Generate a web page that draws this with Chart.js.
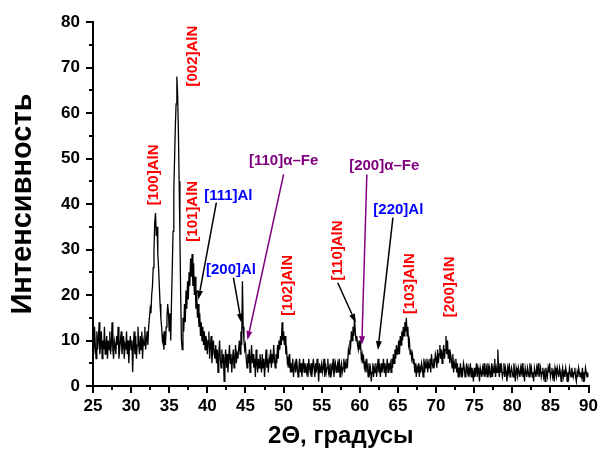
<!DOCTYPE html>
<html>
<head>
<meta charset="utf-8">
<script src="https://cdn.jsdelivr.net/npm/chart.js@4/dist/chart.umd.min.js"></script>
<style>
html,body{margin:0;padding:0;background:#fff;}
#wrap{width:601px;height:450px;}
</style>
</head>
<body>
<div id="wrap"><canvas id="c" width="601" height="450"></canvas></div>
<script>
// ---- data (2Θ scan, step 0.1°) ----
const twoThetaStart = 25;
const twoThetaStep = 0.1;
const intensity25to35 = [
 11,7,13,9,6,12,8,10,14,7,
 9,12,6,10,8,13,7,9,11,6,
 10,8,12,7,9,14,8,6,10,9,
 7,11,9,13,6,8,10,12,7,9,
 11,6,9,8,12,7,10,5,9,11,
 8,10,3,9,12,7,11,6,9,13,
 9,7,11,8,12,6,10,9,13,8,
 10,12,9,13,15,17,16,20,22,26,
 30,36,38,33,35,29,26,22,18,15,
 13,10,11,8,12,9,13,15,18,16
];
const intensity35to45 = [
 12,16,10,19,26,34,43,50,57,62,
 68,64,56,45,33,20,10,8,15,12,
 18,14,21,17,23,19,25,22,28,24,
 29,22,27,20,24,17,21,15,18,13,
 16,11,14,10,13,9,12,8,11,10,
 7,10,12,6,9,11,5,8,10,7,
 6,9,5,8,3,7,10,6,4,8,
 5,7,1,6,8,4,7,3,6,9,
 5,7,3,6,8,4,6,9,5,7,
 6,8,10,7,12,9,23,13,10,8
];
const intensity45to55 = [
 9,6,4,7,5,8,3,6,9,5,
 7,4,6,2,8,5,3,6,4,7,
 5,3,7,4,6,2,5,8,4,6,
 3,6,5,8,4,7,5,9,6,4,
 7,5,9,6,10,8,11,9,14,10,
 12,9,11,7,8,5,6,4,7,3,
 5,3,6,2,4,5,3,6,4,2,
 4,6,3,5,2,4,6,3,5,4,
 3,5,2,6,4,3,5,2,4,6,
 4,2,5,3,6,4,1,5,3,4
];
const intensity55to65 = [
 5,3,4,6,2,5,3,4,6,3,
 4,2,5,3,4,6,2,4,5,3,
 4,5,3,6,2,4,5,3,4,6,
 3,5,4,6,5,8,7,10,9,12,
 10,13,11,15,12,10,11,9,8,10,
 8,9,6,7,5,6,4,5,3,6,
 4,2,5,3,4,1,3,5,2,4,
 3,5,2,4,6,3,4,2,5,3,
 4,6,3,5,2,4,6,3,5,4,
 5,3,6,4,7,5,8,6,9,7
];
const intensity65to75 = [
 8,10,7,11,9,12,10,13,11,14,
 12,15,11,13,9,10,7,8,6,7,
 5,6,3,5,2,4,3,5,2,4,
 3,5,4,2,6,3,5,4,6,3,
 5,4,6,3,7,5,4,6,5,7,
 6,4,8,5,7,9,6,8,5,7,
 9,6,8,11,7,10,6,8,5,7,
 6,4,7,3,5,4,6,3,5,2,
 4,3,5,2,4,3,5,4,2,3,
 5,3,4,2,3,5,2,4,3,1
];
const intensity75to90 = [
 4,2,3,5,2,4,3,1,4,3,
 2,4,3,5,2,3,4,2,5,3,
 4,2,3,5,2,4,3,6,2,4,
 3,8,4,2,5,3,4,2,3,5,
 2,4,3,1,4,3,5,2,3,4,
 3,2,5,3,1,4,3,2,4,3,
 2,4,3,5,2,3,1,4,3,2,
 4,3,2,5,3,4,2,3,1,4,
 3,2,4,3,5,2,3,4,2,3,
 4,2,3,1,4,3,2,4,3,5,
 2,3,4,2,3,1,4,3,2,4,
 3,2,4,3,1,3,4,2,3,2,
 4,3,1,3,2,4,3,2,4,3,
 2,3,4,2,1,3,2,4,3,2,
 3,2,4,1,3,2,4,3,2,3,
 2
];
const xTicks = [25,30,35,40,45,50,55,60,65,70,75,80,85,90];
const yTicks = [0,10,20,30,40,50,60,70,80];
const xTitle = '2\u0398, градусы';
const yTitle = 'Интенсивность';

// peak labels: text, 2Θ, intensity (centre), vertical?, colour
const peakLabels = [
 ['[100]AlN', 32.9, 46.4, true, '#ff0000'],
 ['[002]AlN', 37.95, 72.5, true, '#ff0000'],
 ['[101]AlN', 37.95, 38.4, true, '#ff0000'],
 ['[111]Al', 42.75, 42.1, false, '#0000ff'],
 ['[200]Al', 43.1, 25.8, false, '#0000ff'],
 ['[110]\u03b1\u2013Fe', 50.0, 49.8, false, '#800080'],
 ['[102]AlN', 50.45, 22.1, true, '#ff0000'],
 ['[110]AlN', 57.05, 29.8, true, '#ff0000'],
 ['[200]\u03b1\u2013Fe', 63.2, 48.5, false, '#800080'],
 ['[220]Al', 65.05, 39.0, false, '#0000ff'],
 ['[103]AlN', 66.45, 22.5, true, '#ff0000'],
 ['[200]AlN', 71.7, 21.8, true, '#ff0000']
];
// arrows: from (2Θ, I) to (2Θ, I), colour
const peakArrows = [
 [41.18, 40.3, 38.82, 19.0, '#000000'],
 [43.42, 23.8, 44.47, 13.9, '#000000'],
 [50.0, 46.5, 45.26, 10.1, '#800080'],
 [57.1, 22.7, 59.47, 13.9, '#000000'],
 [60.92, 46.5, 60.26, 9.0, '#800080'],
 [64.34, 37.0, 62.37, 7.9, '#000000']
];

const intensity = [].concat(intensity25to35, intensity35to45, intensity45to55,
  intensity55to65, intensity65to75, intensity75to90);
const points = intensity.map((v, i) => ({x: +(twoThetaStart + i * twoThetaStep).toFixed(1), y: v}));

const FONT = "'Liberation Sans', Arial, sans-serif";

const annotate = {
  id: 'annotate',
  afterDatasetsDraw(chart) {
    const {ctx, scales: {x, y}} = chart;
    ctx.save();
    // minor ticks
    ctx.strokeStyle = '#000';
    ctx.lineWidth = 2;
    const area = chart.chartArea;
    for (let i = 0; i < xTicks.length - 1; i++) {
      const px = Math.round(x.getPixelForValue((xTicks[i] + xTicks[i + 1]) / 2));
      ctx.beginPath(); ctx.moveTo(px, area.bottom); ctx.lineTo(px, area.bottom + 4); ctx.stroke();
    }
    for (let i = 0; i < yTicks.length - 1; i++) {
      const py = Math.round(y.getPixelForValue((yTicks[i] + yTicks[i + 1]) / 2));
      ctx.beginPath(); ctx.moveTo(area.left, py); ctx.lineTo(area.left - 4, py); ctx.stroke();
    }
    // arrows
    peakArrows.forEach(([x1, y1, x2, y2, col]) => {
      const ax = x.getPixelForValue(x1), ay = y.getPixelForValue(y1);
      const bx = x.getPixelForValue(x2), by = y.getPixelForValue(y2);
      const ang = Math.atan2(by - ay, bx - ax);
      const L = 9, W = 3;
      const hx = bx - L * Math.cos(ang), hy = by - L * Math.sin(ang);
      ctx.strokeStyle = col; ctx.fillStyle = col; ctx.lineWidth = 1.5;
      ctx.beginPath(); ctx.moveTo(ax, ay); ctx.lineTo(hx, hy); ctx.stroke();
      ctx.beginPath();
      ctx.moveTo(bx, by);
      ctx.lineTo(hx + W * Math.sin(ang), hy - W * Math.cos(ang));
      ctx.lineTo(hx - W * Math.sin(ang), hy + W * Math.cos(ang));
      ctx.closePath(); ctx.fill();
    });
    // labels
    ctx.font = 'bold 15px ' + FONT;
    ctx.textAlign = 'center';
    ctx.textBaseline = 'middle';
    peakLabels.forEach(([t, dx, dy, vert, col]) => {
      const px = x.getPixelForValue(dx), py = y.getPixelForValue(dy);
      ctx.fillStyle = col;
      ctx.save();
      ctx.translate(px, py);
      if (vert) ctx.rotate(-Math.PI / 2);
      ctx.fillText(t, 0, 1);
      ctx.restore();
    });
    ctx.restore();
  }
};

new Chart(document.getElementById('c'), {
  type: 'line',
  data: {
    datasets: [{
      data: points,
      borderColor: '#000',
      borderWidth: 1.3,
      pointRadius: 0,
      tension: 0,
      fill: false
    }]
  },
  options: {
    responsive: false,
    animation: false,
    devicePixelRatio: 1,
    layout: {padding: {top: 22, right: 12, left: 0, bottom: 0}},
    plugins: {legend: {display: false}, tooltip: {enabled: false}},
    scales: {
      x: {
        type: 'linear', min: 25, max: 90,
        afterFit(s) { s.height = 64; },
        afterBuildTicks(s) { s.ticks = xTicks.map(v => ({value: v})); },
        grid: {drawOnChartArea: false, drawTicks: true, tickLength: 7, color: '#000', lineWidth: 2},
        border: {display: true, color: '#000', width: 2},
        ticks: {color: '#000', padding: 3, maxRotation: 0, autoSkip: false,
                font: {family: FONT, size: 17, weight: 'bold'}},
        title: {display: true, text: xTitle, color: '#000', padding: {top: 0, bottom: 2},
                font: {family: FONT, size: 24, weight: 'bold', lineHeight: 1.0}}
      },
      y: {
        min: 0, max: 80,
        afterFit(s) { s.width = 93; },
        afterBuildTicks(s) { s.ticks = yTicks.map(v => ({value: v})); },
        grid: {drawOnChartArea: false, drawTicks: true, tickLength: 7, color: '#000', lineWidth: 2},
        border: {display: true, color: '#000', width: 2},
        ticks: {color: '#000', padding: 6, autoSkip: false,
                font: {family: FONT, size: 17, weight: 'bold'}},
        title: {display: true, text: yTitle, color: '#000', padding: {top: 6, bottom: 0},
                font: {family: FONT, size: 29, weight: 'bold'}}
      }
    }
  },
  plugins: [annotate]
});
</script>
</body>
</html>
